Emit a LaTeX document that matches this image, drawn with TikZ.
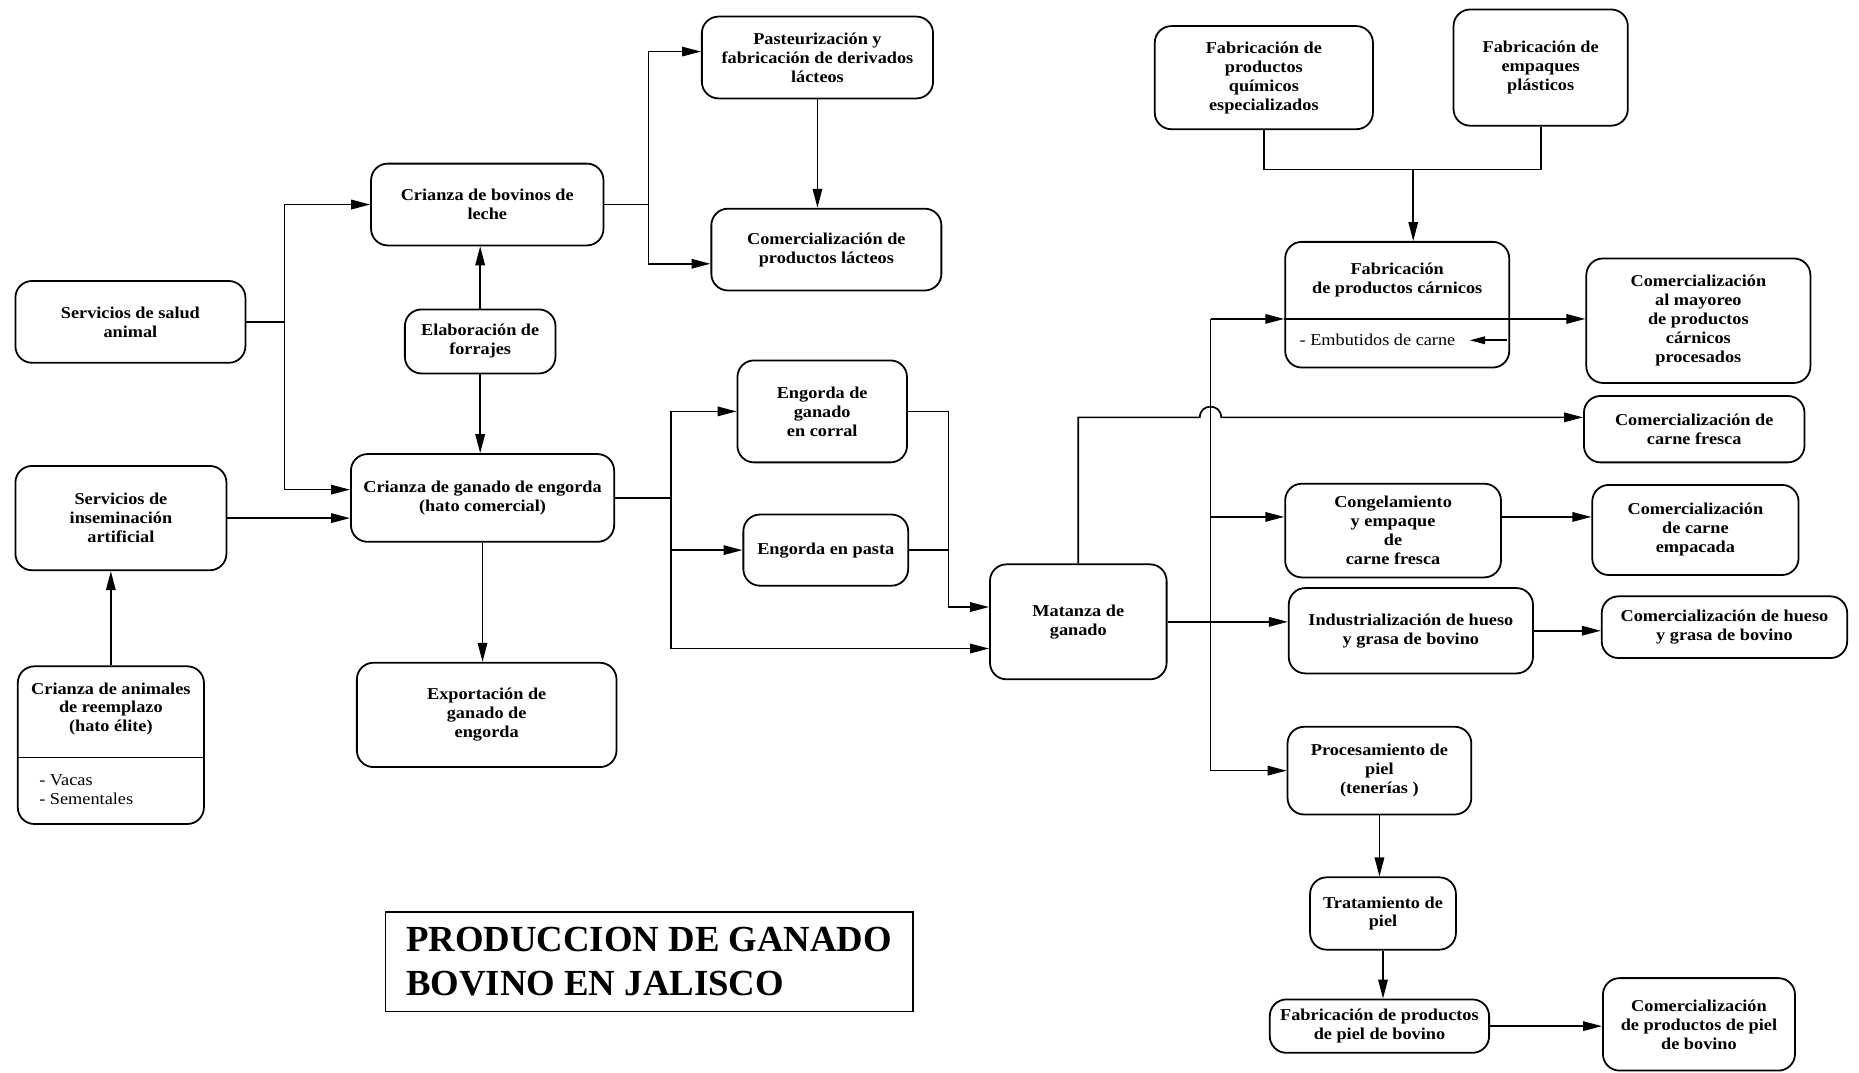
\documentclass[tikz,border=0pt]{standalone}
\usepackage{fontspec}
\setmainfont{Liberation Serif}
\newfontfamily\boxfont{Liberation Serif}[FakeStretch=1.1]
\usetikzlibrary{arrows.meta,calc}
\begin{document}
\begin{tikzpicture}[x=1pt,y=-1pt,
  box/.style={draw,line width=1.5pt,rounded corners=14pt,align=center,
    font=\boxfont\fontsize{14}{16}\selectfont\bfseries,inner sep=0pt},
  plain/.style={align=left,font=\boxfont\fontsize{14}{16}\selectfont,inner sep=0pt},
  label/.style={align=center,font=\boxfont\fontsize{14}{16}\selectfont\bfseries,inner sep=0pt},
  line/.style={line width=1.4pt},
  arr/.style={line width=1.4pt,-{Triangle[length=16pt,width=8pt]}},
  small arr/.style={line width=1.3pt,-{Triangle[length=13pt,width=6.5pt]}}]
\useasboundingbox (0,0) rectangle (1568,905);

% ---- left column ----
\node[box,minimum width=194pt,minimum height=69pt] (A) at (110,271.5) {Servicios de salud\\animal};
\node[box,minimum width=178pt,minimum height=88pt] (B) at (102,437) {Servicios de\\inseminación\\artificial};
\node[box,minimum width=157pt,minimum height=133pt] (C) at (93.5,628.5) {};
\node[label] (Ct) at (93.5,598) {Crianza de animales\\de reemplazo\\(hato élite)};
\node[plain,anchor=west] (Cb) at (33,666) {- Vacas\\- Sementales};
\coordinate (Cdiv) at (0,639);
\draw[line] (C.west |- Cdiv) -- (C.east |- Cdiv);

% ---- centre-left column ----
\node[box,minimum width=196pt,minimum height=69pt] (D) at (411,172.5) {Crianza de bovinos de\\leche};
\node[box,minimum width=127pt,minimum height=54pt] (E) at (405,288) {Elaboración de\\forrajes};
\node[box,minimum width=222pt,minimum height=74pt] (F) at (407,420) {Crianza de ganado de engorda\\(hato comercial)};
\node[box,minimum width=219pt,minimum height=88pt] (G) at (410.5,603) {Exportación de\\ganado de\\engorda};

% ---- dairy branch ----
\node[box,minimum width=195pt,minimum height=69pt] (H) at (689.5,48.5) {Pasteurización y\\fabricación de derivados\\lácteos};
\node[box,minimum width=194pt,minimum height=69pt] (I) at (697,210.5) {Comercialización de\\productos lácteos};

% ---- fattening ----
\node[box,minimum width=143pt,minimum height=86pt] (J) at (693.5,347) {Engorda de\\ganado\\en corral};
\node[box,minimum width=139pt,minimum height=60pt] (K) at (696.5,464) {Engorda en pasta};
\node[box,minimum width=149pt,minimum height=97pt] (L) at (909.5,524.5) {Matanza de\\ganado};

% ---- suppliers ----
\node[box,minimum width=184pt,minimum height=87pt] (M) at (1066,65.5) {Fabricación de\\productos\\químicos\\especializados};
\node[box,minimum width=147pt,minimum height=98pt] (N) at (1299.5,57) {Fabricación de\\empaques\\plásticos};

% ---- processing ----
\node[box,minimum width=189pt,minimum height=106pt] (O) at (1178.5,257) {};
\node[label] (Ot) at (1178.5,236) {Fabricación\\de productos cárnicos};
\node[plain,anchor=west] (emb) at (1096,287) {- Embutidos de carne};
\node[box,minimum width=189pt,minimum height=105pt] (P) at (1432.5,270.5) {Comercialización\\al mayoreo\\de productos\\cárnicos\\procesados};
\node[box,minimum width=186pt,minimum height=56pt] (Q) at (1429,362) {Comercialización de\\carne fresca};
\node[box,minimum width=182pt,minimum height=79pt] (R) at (1175,447.5) {Congelamiento\\y empaque\\de\\carne fresca};
\node[box,minimum width=174pt,minimum height=76pt] (S) at (1430,447) {Comercialización\\de carne\\empacada};
\node[box,minimum width=206pt,minimum height=72pt] (T) at (1190,532) {Industrialización de hueso\\y grasa de bovino};
\node[box,minimum width=207pt,minimum height=52pt] (U) at (1454.5,529) {Comercialización de hueso\\y grasa de bovino};
\node[box,minimum width=155pt,minimum height=74pt] (V) at (1163.5,650) {Procesamiento de\\piel\\(tenerías )};
\node[box,minimum width=123pt,minimum height=61pt] (W) at (1166.5,770.5) {Tratamiento de\\piel};
\node[box,minimum width=185pt,minimum height=45pt] (X) at (1163.5,865.5) {Fabricación de productos\\de piel de bovino};
\node[box,minimum width=162pt,minimum height=78pt] (Y) at (1433,864) {Comercialización\\de productos de piel\\de bovino};

% ---- title ----
\node[draw,line width=1.3pt,minimum width=445pt,minimum height=84pt,align=left,inner sep=0pt,
  font=\fontsize{31}{37}\selectfont\bfseries] (title) at (547.5,811)
  {PRODUCCION DE GANADO\\BOVINO EN JALISCO};

% ---- connectors: left part ----
\coordinate (ja) at (240,0);
\coordinate (Fup) at ($(F.west)+(0,-7)$);
\draw[arr] (A.east) -- (A.east -| ja) |- (D.west);
\draw[arr] (A.east -| ja) |- (Fup);
\draw[arr] (B.east) -- (B.east -| F.west);
\draw[arr] (C.north) -- (C.north |- B.south);
\draw[arr] (E.north) -- (E.north |- D.south);
\draw[arr] (E.south) -- (E.south |- F.north);
\draw[arr] (F.south) -- (F.south |- G.north);

% dairy
\coordinate (jd) at (547,0);
\coordinate (Hin) at ($(H.west)+(0,-5)$);
\coordinate (Iin) at ($(I.west)+(0,12)$);
\draw[arr] (D.east) -- (D.east -| jd) |- (Hin);
\draw[arr] (D.east -| jd) |- (Iin);
\draw[arr] (H.south) -- (H.south |- I.north);

% fattening
\coordinate (jf) at (566,0);
\coordinate (Lin1) at ($(L.west)+(0,-12.5)$);
\coordinate (Lin2) at ($(L.west)+(0,22.5)$);
\coordinate (jm) at (800,0);
\draw[arr] (F.east) -- (F.east -| jf) |- (J.west);
\draw[arr] (F.east -| jf) |- (K.west);
\draw[arr] (F.east -| jf) |- (Lin2);
\draw[arr] (J.east) -- (J.east -| jm) |- (Lin1);
\draw[line] (K.east) -- (K.east -| jm);

% slaughter outputs
\coordinate (bus) at (1021,0);
\coordinate (Oin) at ($(O.west)+(0,12)$);
\coordinate (Rin) at ($(R.west)+(0,-11.5)$);
\coordinate (hopL) at (1012,352);
\coordinate (hopR) at (1030,352);
\draw[line] (bus |- Oin) -- (bus |- V.west);
\draw[arr] (L.north) |- (hopL) .. controls +(0,-12) and +(0,-12) .. (hopR) -- (hopR -| Q.west);
\draw[arr] (L.east) -- (L.east -| T.west);
\draw[arr] (bus |- Oin) -- (Oin);
\draw[line] (Oin) -- (Oin -| O.east);
\draw[arr] (Oin -| O.east) -- (Oin -| P.west);
\draw[arr] (bus |- Rin) -- (Rin);
\draw[arr] (bus |- V.west) -- (V.west);
\draw[small arr] ($(O.east)+(-3,30)$) -- ($(emb.east)+(12,0)$);

% suppliers into meat products
\coordinate (js) at (1192,143);
\draw[line] (M.south) |- (js) -| (N.south);
\draw[arr] (js) -- (js |- O.north);

% downstream markets
\draw[arr] (Rin -| R.east) -- (Rin -| S.west);
\draw[arr] (T.east) -- (T.east -| U.west);
\draw[arr] (V.south) -- (V.south |- W.north);
\draw[arr] (W.south) -- (W.south |- X.north);
\draw[arr] (X.east) -- (X.east -| Y.west);
\end{tikzpicture}
\end{document}
